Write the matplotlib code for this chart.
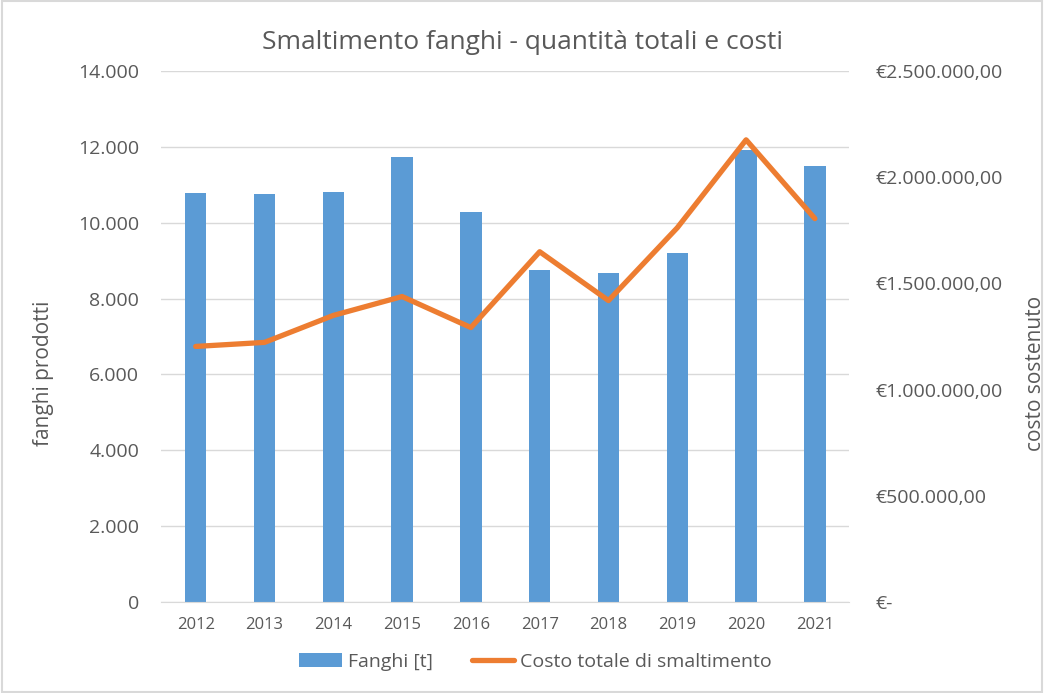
import matplotlib
matplotlib.use("Agg")
import matplotlib.pyplot as plt
from matplotlib.ticker import FuncFormatter, MultipleLocator
from matplotlib.patches import Rectangle

years = ["2012", "2013", "2014", "2015", "2016", "2017", "2018", "2019", "2020", "2021"]
fanghi = [10790, 10760, 10820, 11740, 10290, 8740, 8680, 9210, 11920, 11500]
costo = [1203000, 1222000, 1349000, 1438000, 1292000, 1649000, 1419000, 1762000, 2176000, 1805000]

plt.rcParams['font.family'] = ['Open Sans', 'DejaVu Sans']
txt = '#595959'

fig = plt.figure(figsize=(10.44, 6.93), dpi=100)
fig.patches.append(Rectangle((0.002, 0.002), 0.996, 0.996, transform=fig.transFigure,
                             fill=False, edgecolor='#D9D9D9', linewidth=1.5))
ax = fig.add_axes([0.1545, 0.1315, 0.659, 0.766])
x = list(range(len(years)))
bars = ax.bar(x, fanghi, width=0.31, color='#5B9BD5', label='Fanghi [t]', zorder=2)
ax.set_ylim(0, 14000)
ax.set_xlim(-0.5, len(years) - 0.5)
ax.yaxis.set_major_locator(MultipleLocator(2000))
ax.yaxis.set_major_formatter(FuncFormatter(lambda v, p: f"{int(v):,}".replace(",", ".")))
ax.grid(axis='y', color='#D9D9D9', linewidth=1, zorder=0)
ax.set_axisbelow(True)
ax.set_xticks(x)
ax.set_xticklabels(years)
for s in ['top', 'right', 'left']:
    ax.spines[s].set_visible(False)
ax.spines['bottom'].set_color('#D9D9D9')
ax.tick_params(axis='both', length=0, colors=txt)
ax.tick_params(axis='y', labelsize=14, pad=16)
ax.tick_params(axis='x', labelsize=12, pad=11)
ax.set_ylabel('fanghi prodotti', fontsize=15, color=txt, va='center')
ax.yaxis.set_label_coords(-0.171, 0.43)

ax2 = ax.twinx()
line, = ax2.plot(x, costo, color='#ED7D31', linewidth=3.8, solid_capstyle='round',
                 solid_joinstyle='round', label='Costo totale di smaltimento', zorder=3)
ax2.set_ylim(0, 2500000)
ax2.yaxis.set_major_locator(MultipleLocator(500000))

def eur(v, p):
    if abs(v) < 1e-6:
        return "€-"
    s = f"{v:,.2f}"
    s = s.replace(",", "X").replace(".", ",").replace("X", ".")
    return "€" + s

ax2.yaxis.set_major_formatter(FuncFormatter(eur))
for s in ['top', 'right', 'left', 'bottom']:
    ax2.spines[s].set_visible(False)
ax2.tick_params(axis='y', length=0, colors=txt, labelsize=14, pad=19)
ax2.set_ylabel('costo sostenuto', fontsize=15, color=txt, va='center')
ax2.yaxis.set_label_coords(1.270, 0.43)

fig.text(0.5, 0.938, 'Smaltimento fanghi - quantità totali e costi', ha='center', va='center',
         fontsize=19, color=txt)

leg = fig.legend(handles=[bars, line], labels=['Fanghi [t]', 'Costo totale di smaltimento'],
                 loc='center', bbox_to_anchor=(0.513, 0.045), ncol=2, frameon=False,
                 fontsize=14, labelcolor=txt, handlelength=2.2, handletextpad=0.3,
                 columnspacing=2.0)

fig.savefig('out.png', dpi=100)
